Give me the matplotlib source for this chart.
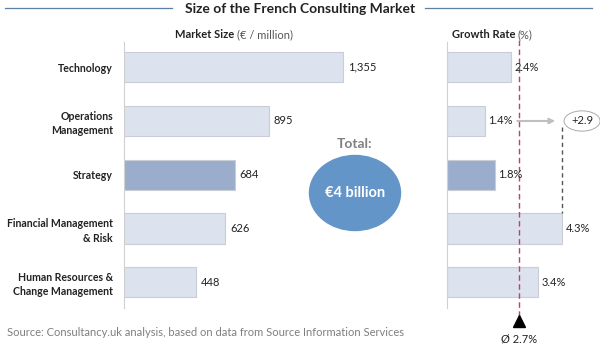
import numpy as np
import matplotlib.pyplot as plt
from matplotlib.patches import Ellipse
from matplotlib.lines import Line2D

plt.rcParams['font.family'] = ['Lato', 'DejaVu Sans']

categories = ['Technology', 'Operations\nManagement', 'Strategy',
              'Financial Management\n& Risk', 'Human Resources &\nChange Management']
market_size = [1355, 895, 684, 626, 448]
size_labels = ['1,355', '895', '684', '626', '448']
growth = [2.4, 1.4, 1.8, 4.3, 3.4]
avg_growth = 2.7
gap = 2.9

W, H = 600, 349
fig = plt.figure(figsize=(W / 100, H / 100), dpi=100)

light = '#dde3ee'
edge = '#c8cdd6'
dark = '#9aaecb'
colors = [dark if c == 'Strategy' else light for c in categories]

def px(x0, y0, x1, y1):
    # pixel box (top-left origin) -> figure fraction
    return [x0 / W, 1 - y1 / H, (x1 - x0) / W, (y1 - y0) / H]

y = np.arange(len(categories))
ylim = (4.48, -0.47)

# left panel: market size
ax1 = fig.add_axes(px(124, 42, 430, 308))
ax1.barh(y, market_size, height=0.56, color=colors, edgecolor=edge, linewidth=0.8)
ax1.set_xlim(0, 306 / 0.1617)
ax1.set_ylim(*ylim)
for yi, v, lab in zip(y, market_size, size_labels):
    ax1.text(v + 30, yi, lab, va='center', ha='left', fontsize=8, color='#222222')
ax1.set_yticks(y)
ax1.set_yticklabels(categories, fontsize=7.6, fontweight='bold', color='#222222', linespacing=1.35)
ax1.tick_params(axis='y', length=0, pad=8)
ax1.set_xticks([])
for s in ['top', 'right', 'bottom']:
    ax1.spines[s].set_visible(False)
ax1.spines['left'].set_color('#d0d0d0')

# right panel: growth rate
ax2 = fig.add_axes(px(447, 42, 600, 308))
ax2.barh(y, growth, height=0.56, color=colors, edgecolor=edge, linewidth=0.8)
ax2.set_xlim(0, 153 / 26.8)
ax2.set_ylim(*ylim)
for yi, g in zip(y, growth):
    ax2.text(g + 0.12, yi, f'{g}%', va='center', ha='left', fontsize=8, color='#222222')
ax2.set_xticks([])
ax2.set_yticks([])
for s in ['top', 'right', 'bottom']:
    ax2.spines[s].set_visible(False)
ax2.spines['left'].set_color('#d0d0d0')

# average line
ax2.plot([avg_growth, avg_growth], [-0.5, 4.62], color='#c0406a', lw=1,
         ls=(0, (4, 2.5)), clip_on=False, zorder=1)
ax2.plot([avg_growth], [4.72], marker='^', color='black', markersize=9, clip_on=False)
ax2.text(avg_growth, 5.05, f'Ø {avg_growth}%', ha='center', va='center', fontsize=8,
         color='#222222', clip_on=False)

# gap annotation
ax2.annotate('', xy=(4.14, 1), xytext=(2.52, 1),
             arrowprops=dict(arrowstyle='-|>', color='#bfbfbf', lw=1.5, mutation_scale=8))
ax2.plot([4.3, 4.3], [1.12, 2.72], color='#555555', lw=1, ls=(0, (3, 2.5)))
ax2.text(5.04, 1, f'+{gap}', ha='center', va='center', fontsize=8, color='#222222',
         clip_on=False,
         bbox=dict(boxstyle='ellipse,pad=0.15', fc='white', ec='#aaaaaa', lw=0.7))

# total ellipse
fig.patches.append(Ellipse((355 / W, 1 - 193 / H), 91 / W, 75 / H,
                           transform=fig.transFigure, color='#6495c8'))
fig.text(355 / W, 1 - 193 / H, '€4 billion', ha='center', va='center', color='white',
         fontsize=10.5, fontweight='bold')
fig.text(355 / W, 1 - 144 / H, 'Total:', ha='center', va='center', color='#808080',
         fontsize=10, fontweight='bold')

# title and headers
fig.text(300 / W, 1 - 9 / H, 'Size of the French Consulting Market', ha='center',
         va='center', fontsize=10, fontweight='bold', color='#222222')
fig.add_artist(Line2D([5 / W, 172 / W], [1 - 8 / H] * 2, color='#5b7fa6', lw=0.9))
fig.add_artist(Line2D([425 / W, 592 / W], [1 - 8 / H] * 2, color='#5b7fa6', lw=0.9))

fig.text(234 / W, 1 - 35 / H, 'Market Size', ha='right', va='center', fontsize=8,
         fontweight='bold', color='#222222')
fig.text(237 / W, 1 - 35 / H, '(€ / million)', ha='left', va='center', fontsize=8,
         color='#555555')
fig.text(515 / W, 1 - 35 / H, 'Growth Rate', ha='right', va='center', fontsize=8,
         fontweight='bold', color='#222222')
fig.text(518 / W, 1 - 35 / H, '(%)', ha='left', va='center', fontsize=8, color='#555555')

fig.text(7 / W, 1 - 332 / H, 'Source: Consultancy.uk analysis, based on data from Source Information Services',
         ha='left', va='center', fontsize=8, color='#7f7f7f')

fig.savefig('out.png', dpi=100)
